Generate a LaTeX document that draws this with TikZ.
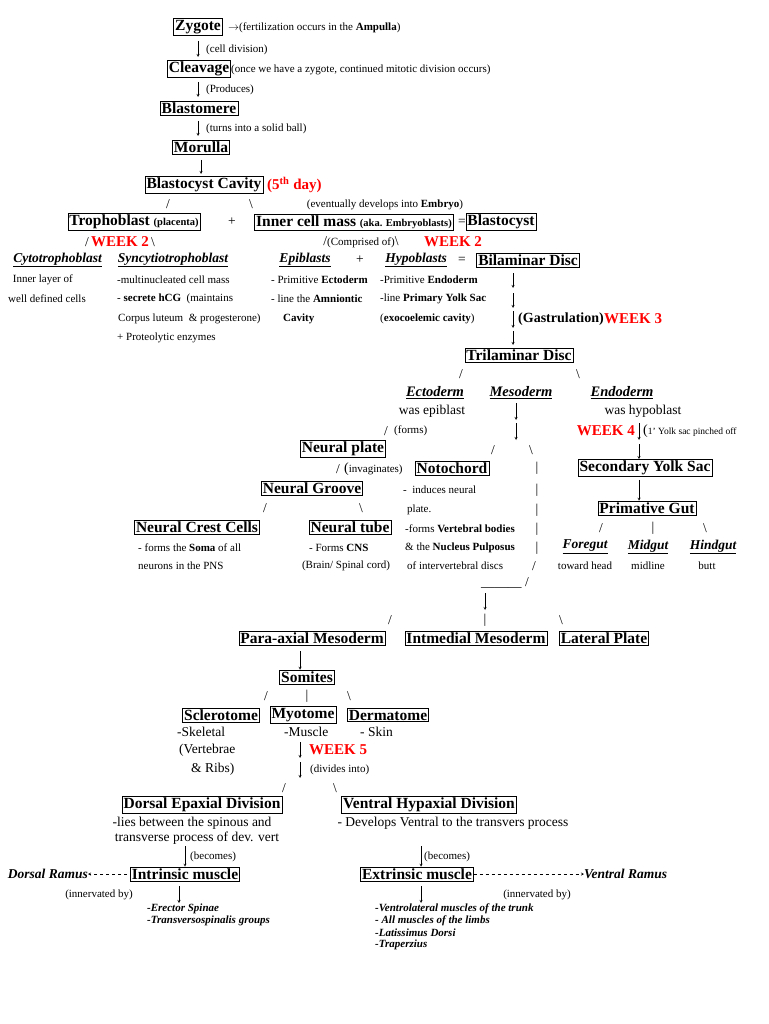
\documentclass[tikz,border=0pt]{standalone}
\usepackage{fontspec}
\setmainfont{Liberation Serif}
\usetikzlibrary{positioning}
\tikzset{
  box/.style={draw, semithick, inner sep=1.5pt, font=\fontsize{15.5}{17}\selectfont\bfseries},
  note/.style={inner sep=0pt, font=\fontsize{11}{12}\selectfont},
  mid/.style={inner sep=0pt, font=\fontsize{13.5}{15}\selectfont},
  wk/.style={inner sep=0pt, text=red, font=\fontsize{15}{17}\selectfont\bfseries},
  head/.style={inner sep=0pt, font=\fontsize{13.5}{15}\selectfont\bfseries\itshape},
  bit/.style={inner sep=0pt, font=\fontsize{11}{12}\selectfont\bfseries\itshape},
  arr/.style={->, thin, >=stealth}
}
\newcommand{\ul}[1]{\underline{#1}}
\begin{document}
\begin{tikzpicture}[x=1pt, y=-1pt]
  \useasboundingbox[fill=white] (0,0) rectangle (768,1024);
  % top chain
  \node[box] (zyg) at (198,27) {Zygote};
  \node[note, anchor=west] (zygn) at (228,28) {$\rightarrow$(fertilization occurs in the \textbf{Ampulla})};
  \node[box] (clv) at (199,69) {Cleavage};
  \node[note, anchor=west] at (231,70) {(once we have a zygote, continued mitotic division occurs)};
  \node[box] (blm) at (199,108) {Blastomere};
  \node[box] (mor) at (201,147) {Morulla};
  \node[box] (cav) at (204,185) {Blastocyst Cavity};
  \node[wk, anchor=west] at (267,185) {(5\textsuperscript{th} day)};
  \node[note, anchor=west] at (206,50) {(cell division)};
  \node[note, anchor=west] at (206,90) {(Produces)};
  \node[note, anchor=west] at (206,129) {(turns into a solid ball)};
  \draw[arr] (198,41) -- (198,57);
  \draw[arr] (198,82) -- (198,97);
  \draw[arr] (198,121) -- (198,136);
  \draw[arr] (201,160) -- (201,174);

  % blastocyst row
  \node[mid] at (168,204) {/};
  \node[mid] at (251,204) {\textbackslash};
  \node[note] at (385,205) {(eventually develops into \textbf{Embryo})};
  \node[box] (tro) at (134,222) {Trophoblast \fontsize{10.5}{12}\selectfont (placenta)};
  \node[mid] at (232,222) {+};
  \node[box] (icm) at (354,222) {Inner cell mass \fontsize{10.5}{12}\selectfont (aka. Embryoblasts)};
  \node[mid] at (462,222) {=};
  \node[box] (bla) at (501,222) {Blastocyst};
  \node[mid] at (87,242) {/};
  \node[wk] at (120,242) {WEEK 2};
  \node[mid] at (153,242) {\textbackslash};
  \node[note] at (361,242) {\fontsize{13.5}{15}\selectfont/\fontsize{11}{12}\selectfont(Comprised of)\fontsize{13.5}{15}\selectfont\textbackslash};
  \node[wk] at (453,242) {WEEK 2};

  % bilaminar
  \node[head, anchor=east] at (102,260) {\ul{Cytotrophoblast}};
  \node[head] at (173,260) {\ul{Syncytiotrophoblast}};
  \node[head] at (305,260) {\ul{Epiblasts}};
  \node[mid] at (360,260) {+};
  \node[head] at (416,260) {\ul{Hypoblasts}};
  \node[mid] at (462,260) {=};
  \node[box] (bil) at (528,260) {Bilaminar Disc};
  \node[note, anchor=east] at (73,280) {Inner layer of};
  \node[note, anchor=east] at (86,299) {well defined cells};
  \node[note, anchor=west] at (117,280) {-multinucleated cell mass};
  \node[note, anchor=west] at (117,299) {- \textbf{secrete hCG} \ (maintains};
  \node[note, anchor=west] at (118,319) {Corpus luteum \ \& progesterone)};
  \node[note, anchor=west] at (117,338) {+ Proteolytic enzymes};
  \node[note, anchor=west] at (271,280) {- Primitive \textbf{Ectoderm}};
  \node[note, anchor=west] at (271,299) {- line the \textbf{Amniontic}};
  \node[note, anchor=west] at (283,319) {\textbf{Cavity}};
  \node[note, anchor=west] at (380,280) {-Primitive \textbf{Endoderm}};
  \node[note, anchor=west] at (380,299) {-line \textbf{Primary Yolk Sac}};
  \node[note, anchor=west] at (380,319) {(\textbf{exocoelemic cavity})};
  \draw[arr] (513,273) -- (513,288);
  \draw[arr] (513,293) -- (513,308);
  \draw[arr] (513,311) -- (513,328);
  \node[mid, anchor=west, font=\fontsize{14}{16}\selectfont\bfseries] at (518,319) {(Gastrulation)};
  \node[wk, anchor=west] at (604,319) {WEEK 3};
  \node[box] (tri) at (519,355) {Trilaminar Disc};
  \draw[arr] (513,331) -- (513,345);

  % germ layers
  \node[mid] at (461,374) {/};
  \node[mid] at (578,374) {\textbackslash};
  \node[head, font=\fontsize{14.5}{16}\selectfont\bfseries\itshape] (ect) at (435,393) {\ul{Ectoderm}};
  \node[head, font=\fontsize{14.5}{16}\selectfont\bfseries\itshape] (mes) at (521,393) {\ul{Mesoderm}};
  \node[head, font=\fontsize{14.5}{16}\selectfont\bfseries\itshape] (end) at (622,393) {\ul{Endoderm}};
  \node[mid] at (432,411) {was epiblast};
  \node[mid] at (643,411) {was hypoblast};
  \draw[arr] (516,403) -- (516,420);
  \draw[arr] (516,423) -- (516,440);
  \node[mid] at (386,431) {/};
  \node[note, anchor=west] at (394,431) {(forms)};
  \node[wk, anchor=east] at (635,431) {WEEK 4};
  \draw[arr] (639,423) -- (639,440);
  \node[note, anchor=west] at (643,431) {\fontsize{14}{15}\selectfont(\fontsize{9.5}{11}\selectfont1' Yolk sac pinched off};

  % ectoderm branch
  \node[box] (npl) at (343,449) {Neural plate};
  \node[mid] at (338,469) {/};
  \node[note, anchor=west] at (344,469) {\fontsize{14}{15}\selectfont(\fontsize{11}{12}\selectfont invaginates)};
  \node[box] (ngr) at (312,488) {Neural Groove};
  \node[mid] at (265,508) {/};
  \node[mid] at (361,508) {\textbackslash};
  \node[box] (ncc) at (197,527) {Neural Crest Cells};
  \node[box] (ntb) at (350,527) {Neural tube};
  \node[note, anchor=west] at (138,548) {- forms the \textbf{Soma} of all};
  \node[note, anchor=west] at (138,566) {neurons in the PNS};
  \node[note, anchor=west] at (309,548) {- Forms \textbf{CNS}};
  \node[note] at (346,566) {(Brain/ Spinal cord)};

  % mesoderm branch
  \node[mid] at (493,450) {/};
  \node[mid] at (531,450) {\textbackslash};
  \node[box] (not) at (452,468) {Notochord};
  \foreach \y in {468,490,510,529,548} {
    \node[mid] at (537,\y) {|};
  }
  \node[mid] at (534,566) {/};
  \node[mid] at (505,583) {\_\_\_\_\_\_ /};
  \node[note, anchor=west] at (403,490) {- \ induces neural};
  \node[note, anchor=west] at (407,510) {plate.};
  \node[note, anchor=west] at (405,529) {-forms \textbf{Vertebral bodies}};
  \node[note, anchor=west] at (405,548) {\& the \textbf{Nucleus Pulposus}};
  \node[note, anchor=west] at (407,566) {of intervertebral discs};
  \draw[arr] (485,593) -- (485,610);

  % endoderm branch
  \node[box] (syk) at (645,468) {Secondary Yolk Sac};
  \draw[arr] (639,444) -- (syk.north -| 639,0);
  \node[box] (pgt) at (647,508) {Primative Gut};
  \draw[arr] (syk.south -| 639,0) ++(0,3) -- (pgt.north -| 639,0);
  \node[mid] at (601,528) {/};
  \node[mid] at (653,528) {|};
  \node[mid] at (705,528) {\textbackslash};
  \node[head] at (585,547) {\ul{Foregut}};
  \node[head] at (648,547) {\ul{Midgut}};
  \node[head] at (713,547) {\ul{Hindgut}};
  \node[note] at (585,566) {toward head};
  \node[note] at (648,566) {midline};
  \node[note] at (707,566) {butt};

  % mesoderm divisions
  \node[mid] at (390,620) {/};
  \node[mid] at (485,620) {|};
  \node[mid] at (561,620) {\textbackslash};
  \node[box] (par) at (312,638) {Para-axial Mesoderm};
  \node[box] (imd) at (476,638) {Intmedial Mesoderm};
  \node[box] (lat) at (604,638) {Lateral Plate};
  \node[box] (som) at (307,677) {Somites};
  \draw[arr] (300,651) -- (som.north -| 300,0);
  \node[mid] at (266,696) {/};
  \node[mid] at (307,696) {|};
  \node[mid] at (349,696) {\textbackslash};
  \node[box] (scl) at (221,715) {Sclerotome};
  \node[box] (myo) at (303,715) {Myotome};
  \node[box] (der) at (388,715) {Dermatome};
  \node[mid, anchor=west] at (177,732) {-Skeletal};
  \node[mid, anchor=west] at (179,750) {(Vertebrae};
  \node[mid, anchor=west] at (191,769) {\& Ribs)};
  \node[mid, anchor=west] at (284,732) {-Muscle};
  \node[mid, anchor=west] at (360,732) {- Skin};
  \draw[arr] (300,742) -- (300,758);
  \draw[arr] (300,762) -- (300,778);
  \node[wk, anchor=west] at (309,750) {WEEK 5};
  \node[note, anchor=west] at (310,770) {(divides into)};
  \node[mid] at (284,788) {/};
  \node[mid] at (335,788) {\textbackslash};

  % epaxial / hypaxial
  \node[box] (dep) at (202,805) {Dorsal Epaxial Division};
  \node[box] (vhy) at (429,805) {Ventral Hypaxial Division};
  \node[mid] at (192,823) {-lies between the spinous and};
  \node[mid] at (197,838) {transverse process of dev. vert};
  \node[mid] at (453,823) {- Develops Ventral to the transvers process};
  \node[box] (int) at (185,874) {Intrinsic muscle};
  \node[box] (ext) at (417,874) {Extrinsic muscle};
  \draw[arr] (185,846) -- (int.north);
  \draw[arr] (421,846) -- (ext.north -| 421,0);
  \node[note, anchor=west] at (190,857) {(becomes)};
  \node[note, anchor=west] at (424,857) {(becomes)};
  \node[head, anchor=east] (dra) at (88,874) {Dorsal Ramus};
  \node[head, anchor=west] (vra) at (584,874) {Ventral Ramus};
  \draw[arr, dashed] (int.west) ++(-3,0) -- (dra.east);
  \draw[arr, dashed] (ext.east) -- (vra.west);
  \node[note] at (99,895) {(innervated by)};
  \node[note] at (537,895) {(innervated by)};
  \draw[arr] (179,886) -- (179,903);
  \draw[arr] (421,886) -- (421,903);
  \node[bit, anchor=west] at (147,909) {-Erector Spinae};
  \node[bit, anchor=west] at (147,921) {-Transversospinalis groups};
  \node[bit, anchor=west] at (375,909) {-Ventrolateral muscles of the trunk};
  \node[bit, anchor=west] at (375,921) {- All muscles of the limbs};
  \node[bit, anchor=west] at (375,933) {-Latissimus Dorsi};
  \node[bit, anchor=west] at (375,945) {-Traperzius};
\end{tikzpicture}
\end{document}
